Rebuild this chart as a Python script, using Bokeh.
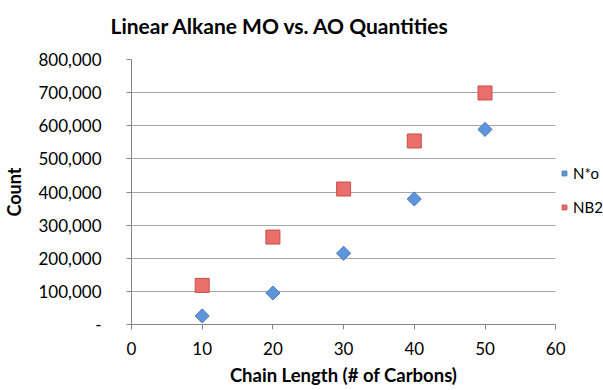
from bokeh.plotting import figure
from bokeh.models import Range1d, FixedTicker, Legend, LegendItem, Title, LinearAxis
from bokeh.embed import file_html
from bokeh.resources import INLINE
import math

# ---- data ----
chain_length = [10, 20, 30, 40, 50]
n_star_o = [26000, 95000, 215000, 379000, 589000]
nb2 = [118000, 264000, 409000, 554000, 699000]

x_ticks = [0, 10, 20, 30, 40, 50, 60]
y_ticks = [0, 100000, 200000, 300000, 400000, 500000, 600000, 700000, 800000]
y_tick_labels = ["-", "100,000", "200,000", "300,000", "400,000",
                 "500,000", "600,000", "700,000", "800,000"]
title_text = "Linear Alkane MO vs. AO Quantities"
x_label = "Chain Length (# of Carbons)"
y_label = "Count"

FONT = "Lato"
X_MAX = 60

# layout (pixels): axis area spans 129..555, frame extends to the right edge
LEFT, AXIS_RIGHT, RIGHT_PAD = 129, 555, 0
frame_w = 603 - LEFT - RIGHT_PAD
x_end = X_MAX * frame_w / (AXIS_RIGHT - LEFT)

p = figure(width=603, height=390, output_backend="svg", toolbar_location=None,
           x_range=Range1d(0, x_end), y_range=Range1d(0, 800000),
           min_border_left=LEFT, min_border_right=RIGHT_PAD, min_border_top=59,
           min_border_bottom=66, background_fill_color="white",
           border_fill_color="white", title_location=None)

# spacer between frame and title (first "above" item sits next to the frame)
p.add_layout(Title(text=" ", text_font_size="1px", standoff=19), "above")
p.add_layout(Title(text=title_text, align="left", offset=-21,
                   vertical_align="bottom", standoff=0,
                   text_font=FONT, text_font_size="21px", text_font_style="bold",
                   text_color="black"), "above")

p.outline_line_color = None
p.xgrid.visible = False
g = p.ygrid[0]
g.grid_line_color = "#a6a6a6"
g.grid_line_width = 1
try:
    g.cross_bounds = (0, X_MAX)
except AttributeError:
    g.visible = False
    p.segment(x0=[0] * len(y_ticks), x1=[X_MAX] * len(y_ticks), y0=y_ticks, y1=y_ticks,
              line_color="#a6a6a6", line_width=1)

for ax in (p.xaxis[0], p.yaxis[0]):
    ax.axis_line_color = "#868686"
    ax.major_tick_line_color = "#868686"
    ax.minor_tick_line_color = None
    ax.major_tick_in = 0
    ax.major_tick_out = 5
    ax.major_label_text_font = FONT
    ax.major_label_text_font_size = "17px"
    ax.major_label_text_color = "black"
    ax.axis_label_text_font = FONT
    ax.axis_label_text_font_size = "18px"
    ax.axis_label_text_font_style = "bold"
    ax.axis_label_text_color = "black"

p.xaxis[0].bounds = (0, X_MAX)
p.xaxis[0].ticker = FixedTicker(ticks=x_ticks)
p.xaxis[0].major_label_standoff = 12
p.yaxis[0].ticker = FixedTicker(ticks=y_ticks)
p.yaxis[0].major_label_overrides = {t: l for t, l in zip(y_ticks, y_tick_labels)}
p.yaxis[0].axis_label = y_label
p.yaxis[0].major_label_standoff = 25
p.yaxis[0].axis_label_standoff = 10

# x axis title: centred on the middle of the 0..60 axis span
x_mid = (x_ticks[0] + x_ticks[-1]) / 2
xlab_axis = LinearAxis(ticker=FixedTicker(ticks=[x_mid]),
                       major_label_overrides={x_mid: x_label},
                       axis_line_color=None, major_tick_line_color=None,
                       minor_tick_line_color=None, major_tick_in=0, major_tick_out=0,
                       major_label_standoff=6,
                       major_label_text_font=FONT, major_label_text_font_size="18.5px",
                       major_label_text_font_style="bold", major_label_text_color="black")
p.add_layout(xlab_axis, "below")

r1 = p.scatter(chain_length, n_star_o, marker="square", size=10, angle=math.pi / 4,
               fill_color="#5e94dc", line_color="#4a7ebb", line_width=1)
r2 = p.scatter(chain_length, nb2, marker="square", size=14,
               fill_color="#ea6e6a", line_color="#c9504d", line_width=1)

legend = Legend(items=[LegendItem(label="N*o", renderers=[r1]),
                       LegendItem(label="NB2", renderers=[r2])],
                location=(AXIS_RIGHT - LEFT + 1, 108), orientation="vertical",
                margin=0, padding=0, spacing=16,
                glyph_width=12, glyph_height=14, label_height=14,
                label_standoff=3, border_line_color=None,
                background_fill_alpha=0,
                label_text_font=FONT, label_text_font_size="15px",
                label_text_color="black")
p.add_layout(legend)

open("out.html", "w").write(file_html(p, INLINE))
